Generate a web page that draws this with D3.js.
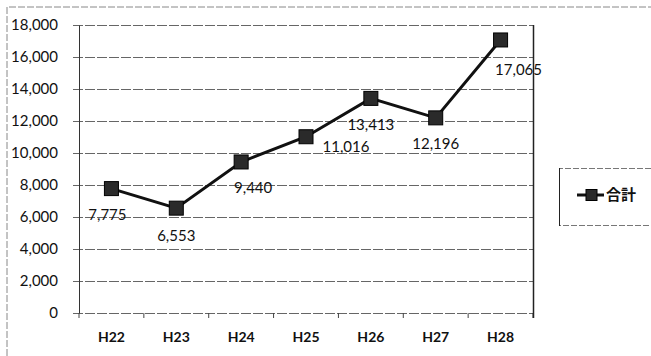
<!DOCTYPE html>
<html><head><meta charset="utf-8">
<script src="https://cdn.jsdelivr.net/npm/d3@7"></script>
<style>body{margin:0;background:#fff}svg{display:block}text{font-family:Lato,"Noto Sans CJK JP",sans-serif;fill:#111}</style>
</head><body><svg id="c" width="651" height="356"></svg>
<script>
const categories = ["H22","H23","H24","H25","H26","H27","H28"];
const values = [7775, 6553, 9440, 11016, 13413, 12196, 17065];
const yTicks = [0,2000,4000,6000,8000,10000,12000,14000,16000,18000];
const seriesName = "合計";

const svg = d3.select("#c");
const L=79, R=533, T=25, B=313;
const x = d3.scaleBand().domain(categories).range([L,R]);
const y = d3.scaleLinear().domain([0,18000]).range([B,T]);
const fmt = d3.format(",");

// outer chart border
svg.append("path").attr("d","M7,356 V7 H651").attr("fill","none").attr("stroke","#888").attr("stroke-width",1).attr("stroke-dasharray","7,2");

// gridlines
svg.append("g").selectAll("line").data(yTicks).join("line")
  .attr("x1",L-6).attr("x2",R).attr("y1",d=>y(d)+0.5).attr("y2",d=>y(d)+0.5)
  .attr("stroke","#666").attr("stroke-width",1).attr("stroke-dasharray","10,2");

// y axis labels
const yAxis = d3.axisLeft(y).tickValues(yTicks).tickFormat(fmt).tickSize(0).tickPadding(21);
const gy = svg.append("g").attr("transform",`translate(${L},0)`).call(yAxis);
gy.select(".domain").attr("stroke","#333");
gy.selectAll("text").attr("font-size",15).style("font-family","Lato").attr("fill","#000");

// x axis
const xAxis = d3.axisBottom(x).tickSize(0).tickPadding(19);
const gx = svg.append("g").attr("transform",`translate(0,${B})`).call(xAxis);
gx.select(".domain").remove();
gx.selectAll("text").attr("font-size",14).attr("font-weight","bold").style("font-family","Lato").attr("fill","#222");
// tick marks at band boundaries
const bounds = categories.map(c=>x(c)).concat([R]);
svg.append("g").selectAll("line").data(bounds).join("line")
  .attr("x1",d=>d).attr("x2",d=>d).attr("y1",B).attr("y2",B+5).attr("stroke","#444");
// right border
svg.append("line").attr("x1",R+0.5).attr("x2",R+0.5).attr("y1",T).attr("y2",B+5).attr("stroke","#222").attr("stroke-width",1.5);

// line
const cx = d=>x(d.c)+x.bandwidth()/2;
const pts = categories.map((c,i)=>({c,v:values[i]}));
svg.append("path").datum(pts)
  .attr("d",d3.line().x(cx).y(d=>y(d.v)))
  .attr("fill","none").attr("stroke","#111").attr("stroke-width",3);
svg.append("g").selectAll("rect").data(pts).join("rect")
  .attr("x",d=>cx(d)-7).attr("y",d=>y(d.v)-7).attr("width",14).attr("height",14)
  .attr("fill","#2a2a2a").attr("stroke","#000").attr("stroke-width",1);

// data labels (offsets relative to marker)
const off = [[-4,26],[0,28],[12,26],[40,10],[0,26],[0,26],[18,30]];
svg.append("g").selectAll("text").data(pts).join("text")
  .attr("x",(d,i)=>cx(d)+off[i][0]).attr("y",(d,i)=>y(d.v)+off[i][1])
  .attr("text-anchor","middle").attr("font-size",15).attr("dy","0.35em").attr("fill","#000")
  .text(d=>fmt(d.v));

// legend
svg.append("path").attr("d","M651,168.5 H559.5 V225.5 H651").attr("fill","none").attr("stroke","#777").attr("stroke-dasharray","6,2");
svg.append("line").attr("x1",559.5).attr("x2",559.5).attr("y1",168).attr("y2",226).attr("stroke","#222");
svg.append("line").attr("x1",577).attr("x2",604).attr("y1",195).attr("y2",195).attr("stroke","#111").attr("stroke-width",3);
svg.append("rect").attr("x",586).attr("y",189.5).attr("width",11).attr("height",11).attr("fill","#2a2a2a").attr("stroke","#000");
svg.append("text").attr("x",606).attr("y",195).attr("dy","0.35em").attr("font-size",15).attr("font-weight","bold").text(seriesName);
</script></body></html>
